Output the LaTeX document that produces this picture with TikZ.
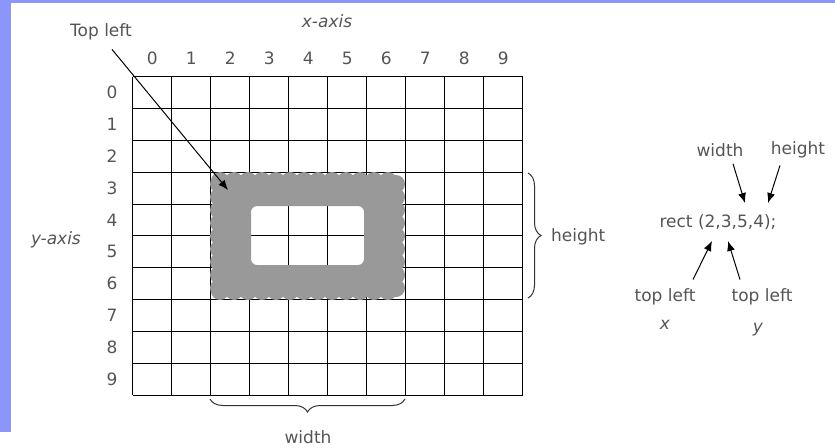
\documentclass[tikz,border=0pt]{standalone}
\usepackage{fontspec}
\setmainfont{DejaVu Sans}
\usetikzlibrary{arrows.meta,decorations.pathreplacing,positioning}
\definecolor{bordeazul}{HTML}{8C96FA}
\definecolor{tinta}{HTML}{555555}
\definecolor{relleno}{HTML}{999999}
\tikzset{
  etiq/.style={text=tinta,font=\fontsize{17}{19}\selectfont,inner sep=1pt},
  flecha/.style={-{Latex[length=10pt,width=8pt]},line width=1pt},
  llave/.style={decorate,decoration={brace,amplitude=13pt},line width=1pt,draw=black!80},
}

\begin{document}
\begin{tikzpicture}[x=1pt,y=-1pt]
\useasboundingbox (0,0) rectangle (835,447);
\fill[bordeazul] (0,0) rectangle (835,3);
\fill[bordeazul] (0,0) rectangle (11,432);

% rejilla 10x10
\foreach \i in {0,...,10} {
  \draw[line width=1pt] ({132.7+39*\i},76.7) -- ({132.7+39*\i},395);
  \draw[line width=1pt] (132.7,{76.7+31.83*\i}) -- (522.7,{76.7+31.83*\i});
}
\foreach \i in {0,...,9} {
  \node[etiq] (col\i) at ({152.2+39*\i},58) {\i};
  \node[etiq] (fila\i) at (112,{92.6+31.83*\i}) {\i};
}

% el rectangulo pintado
\begin{scope}[relleno]
\fill[even odd rule,rounded corners=6pt] (213,176) rectangle (402,296) (251,206) rectangle (364,265);
\foreach \x in {220,234,...,400} {
  \fill (\x,181) circle (9);
  \fill (\x,291) circle (9);
  \fill (\x,197) circle (8);
  \fill (\x,275) circle (8);
}
\foreach \y in {184,197,...,292} {
  \fill (219,\y) circle (9);
  \fill (396,\y) circle (9);
  \fill (240,\y) circle (8);
  \fill (375,\y) circle (8);
}
\end{scope}

\node[etiq] (ejex) at (327,21) {\itshape x-axis};
\node[etiq] (ejey) at (56,240) {\itshape y-axis};

\node[etiq] (topleft) at (101,32) {Top left};
\coordinate (esquina) at (228,190);
\draw[flecha] ([xshift=11pt,yshift=-8pt]topleft.south) -- (esquina);

% llaves
\draw[llave] (405,399) -- (210,399);
\node[etiq] (anchoabajo) at (308,437) {width};
\draw[llave] (528,173) -- (528,298);
\node[etiq,anchor=west] (altolado) at (550,237) {height};

% rect (x,y,w,h)
\node[etiq] (rect) at (718,222) {rect (2,3,5,4);};
\node[etiq] (anchura) at (720,150) {width};
\node[etiq] (altura) at (798,150) {height};
\node[etiq] (izqx) at (665,297) {top left};
\node[etiq] (izqy) at (762,297) {top left};
\node[etiq] (varx) at (665,325) {\itshape x};
\node[etiq] (vary) at (758,330) {\itshape y};

\coordinate (pw) at (745,203);
\coordinate (ph) at (768,203);
\coordinate (px) at (712,241);
\coordinate (py) at (728,241);
\draw[flecha] ([xshift=13pt,yshift=-6pt]anchura.south) -- (pw);
\draw[flecha] ([xshift=-18pt,yshift=-6pt]altura.south) -- (ph);
\draw[flecha] ([xshift=28pt,yshift=8pt]izqx.north) -- (px);
\draw[flecha] ([xshift=-22pt,yshift=8pt]izqy.north) -- (py);
\end{tikzpicture}
\end{document}
